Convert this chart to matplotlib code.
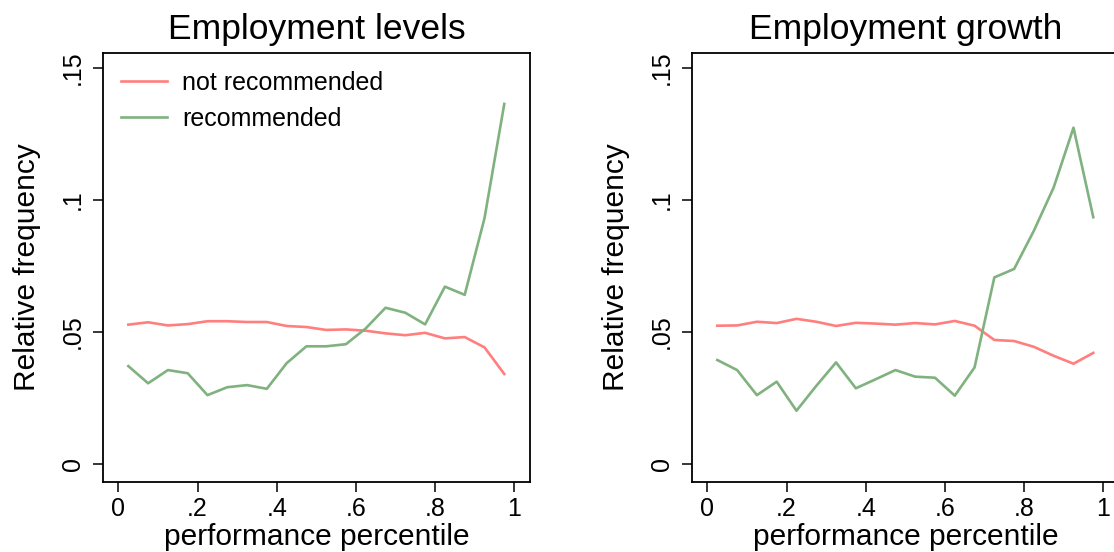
import numpy as np
import matplotlib.pyplot as plt

plt.rcParams['font.family'] = ['Liberation Sans', 'DejaVu Sans']

# bin midpoints of performance percentile
pct = [0.025, 0.075, 0.125, 0.175, 0.225, 0.275, 0.325, 0.375, 0.425, 0.475,
       0.525, 0.575, 0.625, 0.675, 0.725, 0.775, 0.825, 0.875, 0.925, 0.975]

# Employment levels
levels_not_rec = [0.0526, 0.0535, 0.0523, 0.0528, 0.0539, 0.0539, 0.0536, 0.0536, 0.0521, 0.0517,
                  0.0506, 0.0508, 0.0503, 0.0493, 0.0486, 0.0495, 0.0474, 0.0479, 0.0440, 0.0339]
levels_rec = [0.0369, 0.0304, 0.0354, 0.0342, 0.0259, 0.0289, 0.0297, 0.0283, 0.0380, 0.0444,
              0.0444, 0.0452, 0.0512, 0.0590, 0.0571, 0.0527, 0.0670, 0.0639, 0.0929, 0.1362]

# Employment growth
growth_not_rec = [0.0522, 0.0523, 0.0537, 0.0532, 0.0548, 0.0537, 0.0521, 0.0533, 0.0530, 0.0526,
                  0.0532, 0.0527, 0.0540, 0.0522, 0.0468, 0.0464, 0.0442, 0.0408, 0.0378, 0.0419]
growth_rec = [0.0392, 0.0354, 0.0259, 0.0310, 0.0200, 0.0294, 0.0383, 0.0285, 0.0319, 0.0354,
              0.0329, 0.0325, 0.0257, 0.0364, 0.0705, 0.0737, 0.0882, 0.1046, 0.1272, 0.0933]

titles = ['Employment levels', 'Employment growth']
xticks = [0, 0.2, 0.4, 0.6, 0.8, 1.0]
xticklabels = ['0', '.2', '.4', '.6', '.8', '1']
yticks = [0, 0.05, 0.1, 0.15]
yticklabels = ['0', '.05', '.1', '.15']

red = '#ff7f7f'
green = '#7fb27f'

fig = plt.figure(figsize=(11.14, 5.52), dpi=100)
ax1 = fig.add_axes([103 / 1114, 70 / 552, 427 / 1114, 429 / 552])
ax2 = fig.add_axes([692 / 1114, 70 / 552, 427 / 1114, 429 / 552])

panels = [(ax1, levels_not_rec, levels_rec), (ax2, growth_not_rec, growth_rec)]
for i, (ax, nr, r) in enumerate(panels):
    ax.plot(pct, nr, color=red, lw=1.9, label='not recommended')
    ax.plot(pct, r, color=green, lw=1.9, label='recommended')
    ax.set_xlim(-0.039, 1.04)
    ax.set_ylim(-0.0070, 0.1555)
    ax.set_xticks(xticks)
    ax.set_xticklabels(xticklabels)
    ax.set_yticks(yticks)
    ax.set_yticklabels(yticklabels, rotation=90, va='center')
    ax.tick_params(labelsize=18, length=7, width=1.1, pad=4)
    ax.tick_params(axis='y', pad=6)
    for s in ax.spines.values():
        s.set_linewidth(1.3)
    ax.set_title(titles[i], fontsize=25.5, pad=10)
    ax.set_xlabel('performance percentile', fontsize=21.5, labelpad=1)
    ax.set_ylabel('Relative frequency', fontsize=21.5, labelpad=14)

ax1.legend(loc='upper left', frameon=False, fontsize=18, handlelength=1.85,
           handletextpad=0.6, labelspacing=0.5, borderaxespad=0.3)

fig.savefig('out.png', dpi=100)
